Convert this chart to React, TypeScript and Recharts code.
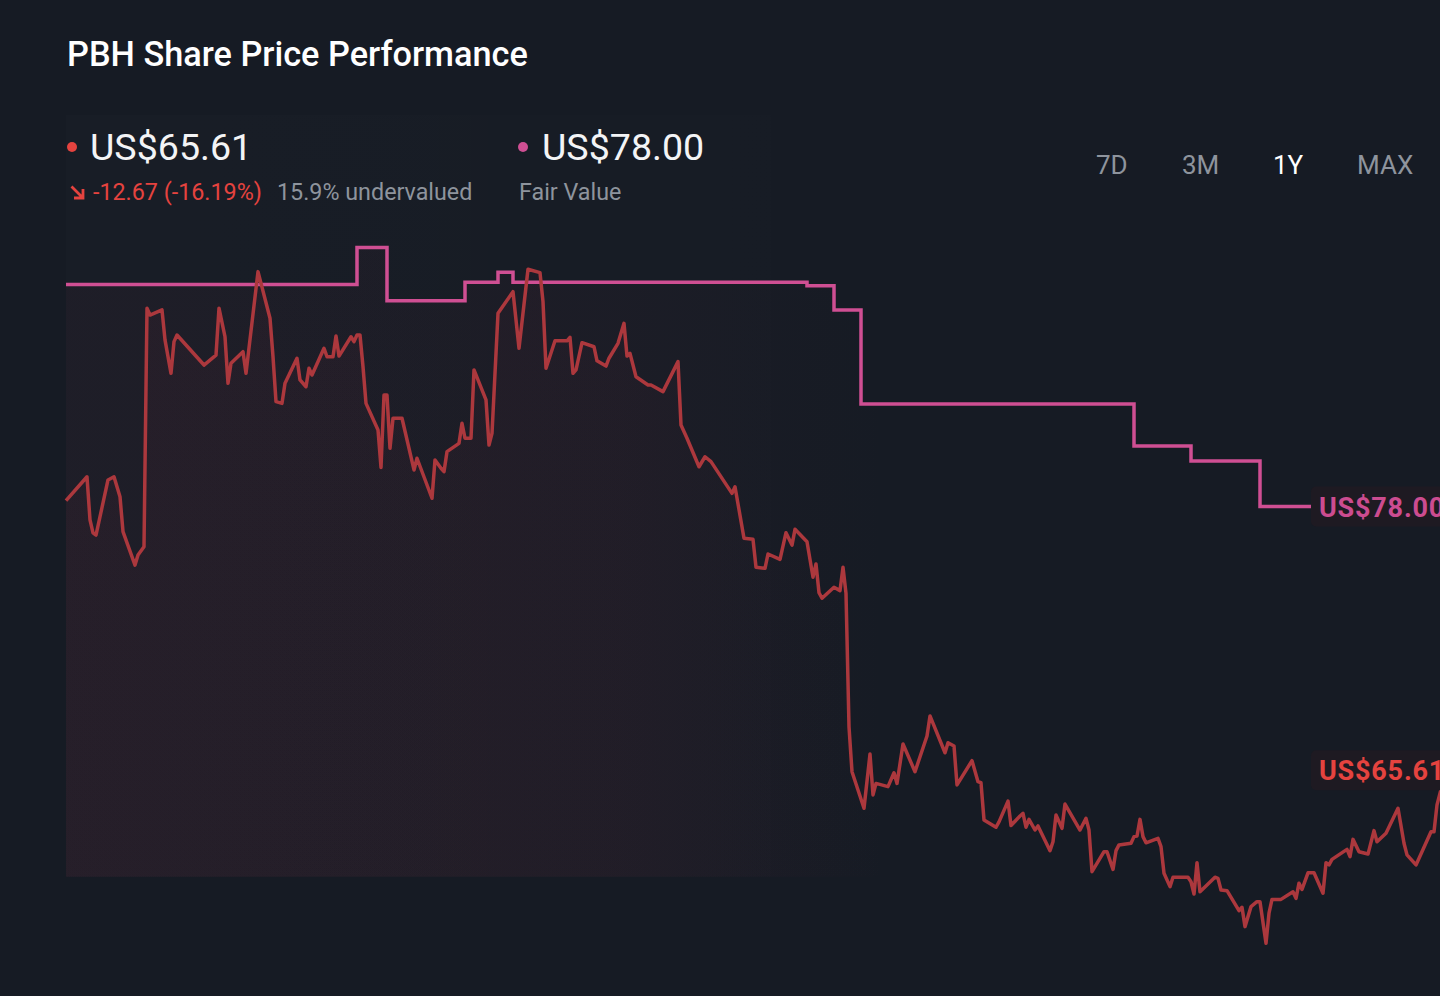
import React from 'react';
import { ComposedChart, Area, Line, XAxis, YAxis, ReferenceLine, ReferenceArea } from 'recharts';

// trading sessions over the last year, and PBH closing price at each
const PRICE_SESSIONS = [
  0, 7, 8, 9, 10, 14, 16, 18, 19, 23, 24, 26, 27, 28, 32, 33, 35, 36, 37, 43, 46, 50, 51, 53, 54, 55, 59, 60,
  64, 68, 69, 70, 72, 73, 77, 78, 80, 81, 82, 86, 87, 89, 90, 91, 95, 96, 97, 98, 99, 100, 104, 105, 106, 107,
  108, 109, 112, 116, 117, 122, 123, 125, 126, 127, 131, 132, 133, 135, 136, 140, 141, 142, 144, 149, 151, 154,
  158, 159, 160, 163, 167, 168, 169, 170, 172, 176, 177, 180, 181, 184, 186, 187, 188, 190, 194, 195, 199, 204,
  205, 207, 211, 213, 215, 222, 223, 226, 229, 230, 233, 234, 238, 240, 242, 243, 247, 249, 250, 251, 252, 256,
  258, 259, 260, 261, 262, 266, 268, 269, 270, 274, 276, 277, 279, 283, 287, 288, 293, 294, 296, 297, 302, 304,
  305, 306, 310, 311, 314, 315, 318, 319, 320, 321, 323, 324, 328, 329, 330, 332, 333, 338, 340, 341, 342, 346,
  347, 349, 350, 351, 355, 356, 357, 358, 359, 360, 364, 365, 366, 368, 369, 374, 375, 376, 377, 378, 383, 384,
  385, 387, 391, 392, 393, 395, 397, 398, 400, 401, 402, 405, 409, 410, 411, 412, 414, 416, 419, 420, 421, 422,
  427, 428, 429, 431, 434, 436, 437, 440, 444, 446, 447, 450, 455, 456, 457, 460,
];
const PRICE_VALUES = [
  78.28, 79.4, 77.37, 76.76, 76.66, 79.25, 79.4, 78.46, 76.82, 75.25, 75.72, 76.11, 87.32, 87.0, 87.24, 85.83,
  84.26, 85.75, 86.06, 85.12, 84.65, 85.12, 87.32, 85.98, 83.79, 84.73, 85.28, 84.26, 89.04, 86.85, 85.04, 82.93,
  82.85, 83.79, 84.97, 83.95, 83.63, 84.5, 84.18, 85.44, 85.04, 85.04, 86.01, 85.07, 85.98, 85.75, 86.06, 86.06,
  84.57, 82.85, 81.6, 79.84, 83.24, 83.24, 80.74, 82.15, 82.15, 79.72, 80.27, 78.39, 80.19, 79.8, 79.64, 80.58,
  80.97, 81.91, 81.21, 81.21, 84.42, 83.01, 80.89, 81.44, 87.08, 88.1, 85.44, 89.15, 88.99, 87.63, 84.5, 85.79,
  85.79, 85.95, 84.26, 84.42, 85.7, 85.51, 84.85, 84.6, 84.97, 85.67, 86.61, 85.07, 85.2, 84.1, 83.71, 83.71,
  83.4, 84.81, 81.83, 81.21, 79.87, 80.34, 80.11, 78.62, 78.93, 76.51, 76.46, 75.15, 75.1, 75.77, 75.52, 76.77,
  76.19, 76.93, 76.35, 74.68, 75.3, 73.95, 73.69, 74.21, 74.05, 75.15, 73.92, 67.65, 65.54, 63.82, 66.37, 64.45,
  64.99, 64.84, 65.49, 64.99, 66.84, 65.54, 67.22, 68.16, 66.43, 66.9, 66.75, 64.92, 66.06, 65.07, 65.02, 63.27,
  62.93, 63.18, 64.16, 63.01, 63.46, 63.58, 62.93, 63.3, 62.8, 62.99, 61.83, 62.25, 63.51, 62.88, 64.02, 62.8,
  63.35, 62.8, 60.84, 61.78, 61.78, 60.95, 61.83, 62.1, 62.18, 62.49, 62.52, 63.3, 62.49, 62.2, 62.41, 62.02,
  60.77, 60.14, 60.58, 60.58, 60.37, 59.79, 61.26, 59.9, 60.58, 60.53, 59.98, 59.95, 59.01, 59.17, 58.26, 59.2,
  59.43, 59.43, 57.48, 58.89, 59.54, 59.54, 59.9, 59.59, 60.3, 60.01, 60.79, 60.79, 59.83, 61.26, 61.16, 61.42,
  61.89, 61.55, 62.36, 61.78, 61.67, 62.77, 62.25, 62.65, 63.82, 62.18, 61.63, 61.16, 62.72, 62.72, 63.98, 65.61,
];

// analyst fair value estimate, changes at these sessions
const FAIR_SESSIONS = [0, 97, 107, 133, 144, 149, 247, 256, 265, 356, 375, 398, 460];
const FAIR_VALUES = [88.44, 90.17, 87.67, 88.54, 89.01, 88.54, 88.38, 87.24, 82.82, 80.85, 80.14, 78.0, 78.0];

const PERIODS = ['7D', '3M', '1Y', 'MAX'];
const ACTIVE_PERIOD = '1Y';

const LAST_PRICE = PRICE_VALUES[PRICE_VALUES.length - 1];
const FAIR_VALUE = FAIR_VALUES[FAIR_VALUES.length - 1];
const CHANGE = -12.67;
const CHANGE_PCT = -16.19;
const UNDERVALUED_PCT = 15.9;

const priceData = PRICE_SESSIONS.map((s, i) => ({ s, price: PRICE_VALUES[i] }));
const fairData = FAIR_SESSIONS.map((s, i) => ({ s, fair: FAIR_VALUES[i] }));

const BG = '#161b24';
const RED = '#ac383d';
const RED_TEXT = '#e5433f';
const PINK = '#cf4f93';
const GREY = '#8e949d';
const FONT = 'Roboto, "Noto Sans", sans-serif';
const AREA_BASE = 60.6;
const TAG_W = 150;

const Tag = ({ viewBox, text, color }: any) => {
  const x = viewBox.x + viewBox.width - TAG_W;
  const y = viewBox.y;
  return (
    <g>
      <rect x={x} y={y - 20} width={TAG_W} height={40} rx={5} fill="#1e1a22" />
      <text x={x + 8} y={y + 1} dominantBaseline="central" fill={color}
        style={{ fontFamily: FONT, fontSize: 27, fontWeight: 700, letterSpacing: 0.8 }}>
        {text}
      </text>
    </g>
  );
};

const Arrow = () => (
  <svg width="18" height="18" viewBox="0 0 18 18" style={{ position: 'absolute', left: 69, top: 184 }}>
    <path d="M2.5 2.5 L14 14 M14 5 L14 14 L5 14" stroke={RED_TEXT} strokeWidth="2.8" fill="none" />
  </svg>
);

export default function App() {
  const abs = (left: number, top: number, size: number, color: string, weight = 400): React.CSSProperties => ({
    position: 'absolute', left, top, fontSize: size, color, fontWeight: weight, lineHeight: 1, whiteSpace: 'nowrap',
  });

  return (
    <div style={{ position: 'fixed', left: 0, top: 0, width: 1440, height: 996, overflow: 'hidden', background: BG, fontFamily: FONT }}>
      <div style={{ position: 'absolute', left: 0, top: 0 }}>
        <ComposedChart width={1461} height={996} margin={{ top: 115, right: 0, bottom: 0, left: 66 }}>
          <defs>
            <linearGradient id="priceFill" x1="0" y1="0" x2="1" y2="0">
              <stop offset="0%" stopColor="#a02c44" stopOpacity={0.1} />
              <stop offset="40%" stopColor="#a02c44" stopOpacity={0.07} />
              <stop offset="60%" stopColor="#a02c44" stopOpacity={0} />
            </linearGradient>
            <linearGradient id="fairFill" x1="0" y1="0" x2="1" y2="0">
              <stop offset="0%" stopColor="#9a2a48" stopOpacity={0.08} />
              <stop offset="40%" stopColor="#9a2a48" stopOpacity={0.06} />
              <stop offset="60%" stopColor="#9a2a48" stopOpacity={0} />
            </linearGradient>
            <linearGradient id="glow" x1="0" y1="0" x2="1" y2="0">
              <stop offset="0%" stopColor="#ffffff" stopOpacity={0.02} />
              <stop offset="100%" stopColor="#ffffff" stopOpacity={0.008} />
            </linearGradient>
          </defs>
          <XAxis type="number" dataKey="s" domain={[0, 465]} hide />
          <YAxis type="number" domain={[55, 96.4]} hide allowDataOverflow />
          <ReferenceArea x1={0} x2={235} y1={AREA_BASE} y2={96.4} fill="url(#glow)" stroke="none" ifOverflow="visible" />
          <Area data={fairData} dataKey="fair" type="stepAfter" baseValue={AREA_BASE} stroke="none"
            fill="url(#fairFill)" isAnimationActive={false} />
          <Area data={priceData} dataKey="price" type="linear" baseValue={AREA_BASE} stroke="none"
            fill="url(#priceFill)" isAnimationActive={false} />
          <Line data={fairData} dataKey="fair" type="stepAfter" stroke={PINK} strokeWidth={3.5}
            dot={false} activeDot={false} isAnimationActive={false} />
          <Line data={priceData} dataKey="price" type="linear" stroke={RED} strokeWidth={3.5}
            strokeLinejoin="round" dot={false} activeDot={false} isAnimationActive={false} />
          <ReferenceLine y={FAIR_VALUE} stroke="none"
            label={{ content: (p: any) => <Tag viewBox={p.viewBox} text={`US$${FAIR_VALUE.toFixed(2)}`} color="#cc4c90" /> }} />
          <ReferenceLine y={LAST_PRICE} stroke="none"
            label={{ content: (p: any) => <Tag viewBox={p.viewBox} text={`US$${LAST_PRICE.toFixed(2)}`} color={RED_TEXT} /> }} />
        </ComposedChart>
      </div>

      <div style={abs(67, 37, 34.3, '#ffffff', 500)}>PBH Share Price Performance</div>

      <div style={{ position: 'absolute', left: 67, top: 142, width: 10, height: 10, borderRadius: 5, background: RED_TEXT }} />
      <div style={abs(90, 129, 37.6, '#f3f4f6')}>US${LAST_PRICE.toFixed(2)}</div>
      <Arrow />
      <div style={abs(93, 180.5, 23.3, RED_TEXT)}>{CHANGE.toFixed(2)} ({CHANGE_PCT.toFixed(2)}%)</div>
      <div style={abs(277, 180.5, 23.3, GREY)}>{UNDERVALUED_PCT}% undervalued</div>

      <div style={{ position: 'absolute', left: 518, top: 142, width: 10, height: 10, borderRadius: 5, background: PINK }} />
      <div style={abs(542, 129, 37.6, '#f3f4f6')}>US${FAIR_VALUE.toFixed(2)}</div>
      <div style={abs(519, 180.5, 23.3, GREY)}>Fair Value</div>

      {PERIODS.map((p, i) => (
        <div key={p} style={abs([1096, 1182, 1273, 1357][i], 151.5, 26, p === ACTIVE_PERIOD ? '#ffffff' : GREY)}>{p}</div>
      ))}
    </div>
  );
}
